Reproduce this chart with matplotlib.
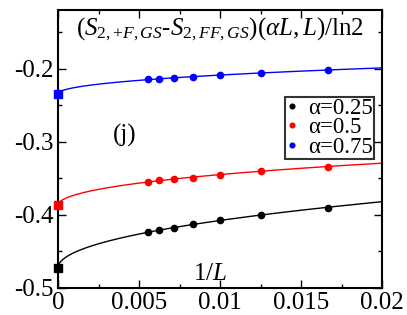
import numpy as np
import matplotlib
matplotlib.use("Agg")
import matplotlib.pyplot as plt
from matplotlib.ticker import MultipleLocator, FixedLocator

plt.rcParams['font.family'] = ['Liberation Serif', 'DejaVu Serif']
plt.rcParams['mathtext.fontset'] = 'custom'
plt.rcParams['mathtext.rm'] = 'Liberation Serif'
plt.rcParams['mathtext.it'] = 'Liberation Serif:italic'

inv_L = [1/180, 1/160, 1/140, 1/120, 1/100, 1/80, 1/60]
labels = ["α=0.25", "α=0.5", "α=0.75"]
colors = ["black", "red", "blue"]
y_vals = [
    [-0.424, -0.421, -0.418, -0.413, -0.407, -0.400, -0.390],
    [-0.355, -0.353, -0.351, -0.349, -0.345, -0.340, -0.334],
    [-0.215, -0.214, -0.213, -0.211, -0.209, -0.206, -0.202],
]
y_extrap = [-0.4725, -0.387, -0.2345]

fig = plt.figure(figsize=(4.07, 3.15), dpi=100)
ax = fig.add_axes([58/407, 1-288/315, (382-58)/407, (288-10)/315])

xs = np.linspace(0, 0.02, 400)
for ys, y0, c, lab in zip(y_vals, y_extrap, colors, labels):
    x = np.array(inv_L)
    y = np.array(ys)
    A = np.vstack([np.sqrt(x), x]).T
    coef, *_ = np.linalg.lstsq(A, y - y0, rcond=None)
    ax.plot(xs, y0 + coef[0]*np.sqrt(xs) + coef[1]*xs, color=c, lw=1.0, zorder=2)
    ax.plot(x, y, 'o', color=c, ms=4.5, label=lab, zorder=3)
    ax.plot([0], [y0], 's', color=c, ms=6, clip_on=False, zorder=4)

ax.set_xlim(0, 0.02)
ax.set_ylim(-0.5, -0.12)
ax.xaxis.set_major_locator(FixedLocator([0, 0.005, 0.01, 0.015, 0.02]))
ax.xaxis.set_minor_locator(MultipleLocator(0.0025))
ax.set_xticklabels(["0", "0.005", "0.01", "0.015", "0.02"])
ax.yaxis.set_major_locator(FixedLocator([-0.5, -0.4, -0.3, -0.2]))
ax.yaxis.set_minor_locator(FixedLocator([-0.45, -0.35, -0.25, -0.15]))
ax.set_yticklabels(["-0.5", "-0.4", "-0.3", "-0.2"])
ax.tick_params(which='both', direction='in', top=True, right=True, labelsize=18, pad=3)
ax.tick_params(which='major', length=6, width=1)
ax.tick_params(which='minor', length=3, width=1)
for s in ax.spines.values():
    s.set_linewidth(1.5)

ax.text(0.5, 0.93, r"$(S_{2,{+}F,GS}$-$S_{2,FF,GS})(\alpha L,L)/\mathrm{ln2}$",
        transform=ax.transAxes, ha='center', va='center', fontsize=18)
ax.text(0.205, 0.55, "(j)", transform=ax.transAxes, ha='center', va='center', fontsize=18)
ax.text(0.47, 0.05, r"1/$L$", transform=ax.transAxes, ha='center', va='center', fontsize=18)

leg = ax.legend(loc='upper right', bbox_to_anchor=(0.974, 0.687), fontsize=16.5,
                frameon=True, fancybox=False, edgecolor='black', handlelength=0.5,
                handletextpad=0.45, labelspacing=-0.08, borderpad=0.05, markerscale=0.75,
                borderaxespad=0)
leg.get_frame().set_linewidth(1.5)

fig.savefig("out.png", dpi=100)
